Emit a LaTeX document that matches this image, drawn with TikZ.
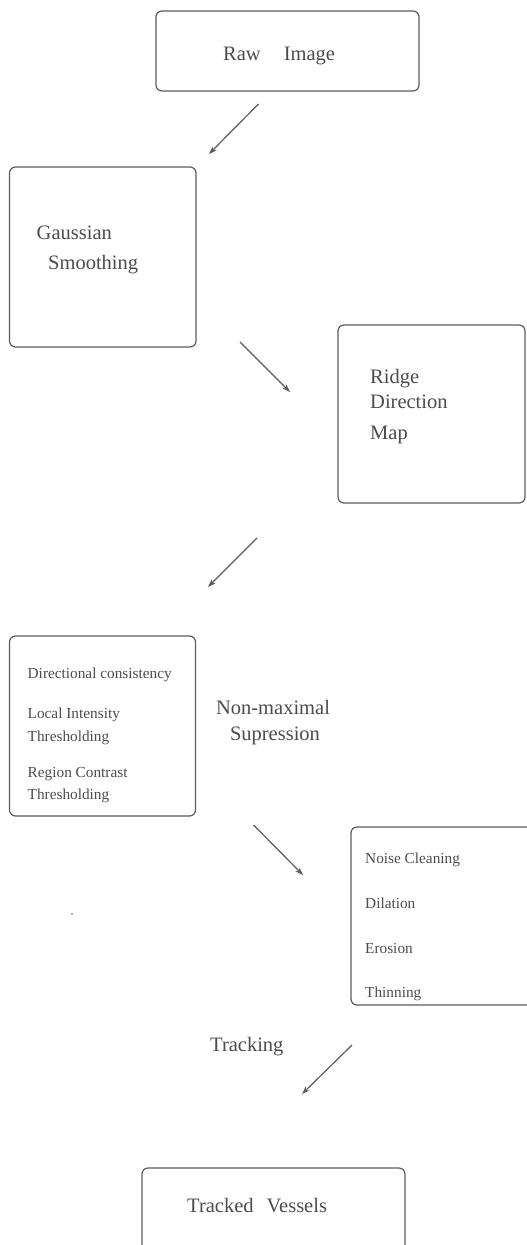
\documentclass[tikz,border=0pt]{standalone}
\usepackage{fontspec}
\setmainfont{Liberation Serif}
\usetikzlibrary{arrows.meta}
\definecolor{ink}{gray}{0.36}
\definecolor{textink}{gray}{0.3}
\tikzset{
  boxshape/.style={draw=ink, line width=1.2pt, rounded corners=6pt},
  bigtxt/.style={anchor=base west, inner sep=0pt, text=textink, font=\fontsize{20.5}{24}\selectfont},
  smalltxt/.style={anchor=base west, inner sep=0pt, text=textink, font=\fontsize{15.3}{18}\selectfont},
  flow/.style={draw=ink, line width=1.2pt, -{Stealth[length=8pt,width=5.5pt]}}
}
\begin{document}
\begin{tikzpicture}[x=1pt,y=-1pt]
\useasboundingbox (0,0) rectangle (527,1245);
% boxes
\draw[boxshape] (156,11) rectangle (419,91);
\draw[boxshape] (9.5,167) rectangle (196,347);
\draw[boxshape] (338,325) rectangle (525,503);
\draw[boxshape] (9.5,636) rectangle (195.5,816);
\draw[boxshape] (351,827) rectangle (545,1005);
\draw[boxshape] (142,1168) rectangle (405,1265);
% texts
\node[bigtxt] (t1) at (223,60) {Raw\hspace{23pt}Image};
\node[bigtxt] (t2a) at (36.5,239) {Gaussian};
\node[bigtxt] (t2b) at (48,269) {Smoothing};
\node[bigtxt] (t3a) at (370,383) {Ridge};
\node[bigtxt] (t3b) at (370,408) {Direction};
\node[bigtxt] (t3c) at (370,439) {Map};
\node[smalltxt] (t4a) at (27.5,678) {Directional consistency};
\node[smalltxt] (t4b) at (27.5,718) {Local Intensity};
\node[smalltxt] (t4c) at (27.5,741) {Thresholding};
\node[smalltxt] (t4d) at (27.5,777) {Region Contrast};
\node[smalltxt] (t4e) at (27.5,799) {Thresholding};
\node[bigtxt, anchor=base] (nm1) at (273,714) {Non-maximal};
\node[bigtxt, anchor=base] (nm2) at (275,740) {Supression};
\node[smalltxt] (t5a) at (365,863) {Noise Cleaning};
\node[smalltxt] (t5b) at (365,908) {Dilation};
\node[smalltxt] (t5c) at (365,953) {Erosion};
\node[smalltxt] (t5d) at (365,997) {Thinning};
\node[bigtxt] (trk) at (210,1051) {Tracking};
\node[bigtxt] (t6) at (187,1212) {Tracked\hspace{13pt}Vessels};
% speck
\fill[ink] (72,914) circle (0.9);
% arrows
\coordinate (a1s) at (258.5,104); \coordinate (a1e) at (209,154);
\coordinate (a2s) at (240,342);   \coordinate (a2e) at (290,392);
\coordinate (a3s) at (257,538);   \coordinate (a3e) at (208,587);
\coordinate (a4s) at (253.5,825); \coordinate (a4e) at (303,875);
\coordinate (a5s) at (352,1045);  \coordinate (a5e) at (302,1094);
\draw[flow] (a1s) -- (a1e);
\draw[flow] (a2s) -- (a2e);
\draw[flow] (a3s) -- (a3e);
\draw[flow] (a4s) -- (a4e);
\draw[flow] (a5s) -- (a5e);
\end{tikzpicture}
\end{document}
